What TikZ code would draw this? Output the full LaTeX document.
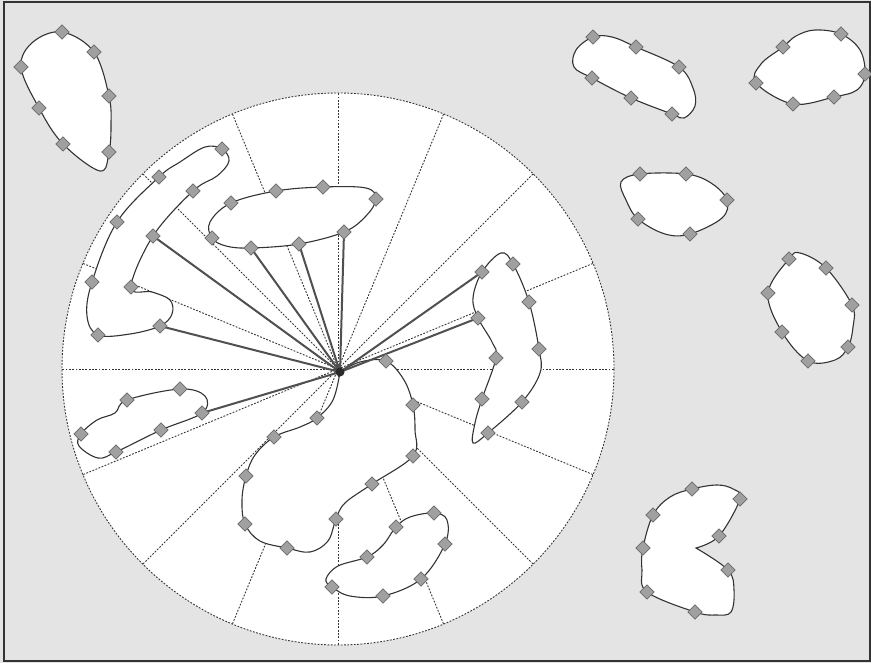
\documentclass[tikz,border=0pt]{standalone}
\definecolor{bg}{HTML}{E4E4E4}
\definecolor{outl}{HTML}{333333}
\definecolor{dashc}{HTML}{353535}
\definecolor{spk}{HTML}{505050}
\definecolor{diaF}{HTML}{A0A0A0}
\definecolor{diaD}{HTML}{6A6A6A}
\definecolor{hubc}{HTML}{2A2A2A}
\begin{document}
\begin{tikzpicture}[x=1pt,y=-1pt,
  blob/.style={draw=outl, fill=white, line width=1.1pt},
  radial/.style={draw=dashc, line width=0.9pt, dash pattern=on 1.8pt off 1.5pt},
  rim/.style={draw=dashc, fill=white, line width=0.9pt, dash pattern=on 1.8pt off 1.5pt},
  spoke/.style={draw=spk, line width=2pt},
  dia/.style={draw=diaD, fill=diaF, rectangle, rotate=45, minimum size=10.2pt, inner sep=0pt, line width=0.7pt},
  hubnode/.style={fill=hubc, circle, minimum size=9pt, inner sep=0pt},
  framebox/.style={draw=outl, line width=1.2pt}]
\useasboundingbox (0,0) rectangle (871,663);
\fill[bg] (0,0) rectangle (871,663);
\draw[framebox] (4,2) rectangle (870,661);

% ---------- positions ----------
\coordinate (O) at (338,369);
\coordinate (hub) at (340,372);
% A
\coordinate (a1) at (62,32);  \coordinate (a2) at (94,52);  \coordinate (a3) at (109,96);
\coordinate (a4) at (109,152);\coordinate (a5) at (63,144); \coordinate (a6) at (39,108);
\coordinate (a7) at (21,67);
% B
\coordinate (b1) at (222,149);\coordinate (b2) at (193,191);\coordinate (b3) at (153,236);
\coordinate (b4) at (131,287);\coordinate (b5) at (160,326);\coordinate (b6) at (98,335);
\coordinate (b7) at (92,282); \coordinate (b8) at (117,222);\coordinate (b9) at (159,177);
% C
\coordinate (c1) at (276,191);\coordinate (c2) at (323,187);\coordinate (c3) at (376,199);
\coordinate (c4) at (231,203);\coordinate (c5) at (212,238);\coordinate (c6) at (251,248);
\coordinate (c7) at (299,244);\coordinate (c8) at (344,232);
% D
\coordinate (d1) at (127,400);\coordinate (d2) at (180,389);\coordinate (d3) at (202,413);
\coordinate (d4) at (81,434); \coordinate (d5) at (161,430);\coordinate (d6) at (116,452);
% E
\coordinate (e1) at (386,361);\coordinate (e2) at (413,405);\coordinate (e3) at (317,418);
\coordinate (e4) at (274,437);\coordinate (e5) at (413,456);\coordinate (e6) at (246,476);
\coordinate (e7) at (372,484);\coordinate (e8) at (245,524);\coordinate (e9) at (336,519);
\coordinate (e10) at (287,548);
% F
\coordinate (f1) at (434,513);\coordinate (f2) at (396,527);\coordinate (f3) at (445,544);
\coordinate (f4) at (367,557);\coordinate (f5) at (421,579);\coordinate (f6) at (332,587);
\coordinate (f7) at (383,596);
% G
\coordinate (g1) at (482,272);\coordinate (g2) at (513,264);\coordinate (g3) at (529,302);
\coordinate (g4) at (478,318);\coordinate (g5) at (539,349);\coordinate (g6) at (496,358);
\coordinate (g7) at (482,399);\coordinate (g8) at (522,402);\coordinate (g9) at (488,433);
% H
\coordinate (h1) at (593,37); \coordinate (h2) at (636,47); \coordinate (h3) at (679,67);
\coordinate (h4) at (592,78); \coordinate (h5) at (631,98); \coordinate (h6) at (672,114);
% I
\coordinate (i1) at (783,47); \coordinate (i2) at (841,34); \coordinate (i3) at (865,74);
\coordinate (i4) at (756,83); \coordinate (i5) at (793,104);\coordinate (i6) at (834,97);
% J
\coordinate (j1) at (640,174);\coordinate (j2) at (686,174);\coordinate (j3) at (727,200);
\coordinate (j4) at (638,219);\coordinate (j5) at (690,234);
% K
\coordinate (k1) at (789,259);\coordinate (k2) at (826,268);\coordinate (k3) at (768,293);
\coordinate (k4) at (852,305);\coordinate (k5) at (782,332);\coordinate (k6) at (848,347);
\coordinate (k7) at (808,361);
% L
\coordinate (l1) at (692,489);\coordinate (l2) at (740,499);\coordinate (l3) at (653,515);
\coordinate (l4) at (719,536);\coordinate (l5) at (643,548);\coordinate (l6) at (728,570);
\coordinate (l7) at (647,592);\coordinate (l8) at (695,612);

% ---------- circle and sectors ----------
\draw[rim] (O) circle[radius=276pt];
\foreach \a in {0,22.5,...,337.5} \draw[radial] (O) -- ++(\a:276pt);

% ---------- outlines ----------
\draw[blob] plot[smooth cycle, tension=0.6] coordinates {(a1) (a2) (a3) (111,125) (a4) (100,171) (a5) (a6) (a7) (33,42)};
\draw[blob] plot[smooth cycle, tension=0.6] coordinates {(b1) (229,161) (217,176) (b2) (b3) (b4) (152,292) (170,300) (172,314) (b5) (130,334) (b6) (87,316) (b7) (b8) (b9) (180,162) (205,147)};
\draw[blob] plot[smooth cycle, tension=0.6] coordinates {(c5) (210,222) (c4) (c1) (c2) (366,188) (c3) (366,216) (c8) (c7) (c6) (226,246)};
\draw[blob] plot[smooth cycle, tension=0.6] coordinates {(d4) (97,420) (115,413) (d1) (d2) (205,396) (d3) (d5) (d6) (98,458) (79,446)};
\draw[blob] plot[smooth, tension=0.6] coordinates {(hub) (360,362) (e1) (404,380) (e2) (415,430) (e5) (e7) (345,503) (e9) (328,541) (310,552) (e10) (260,541) (e8) (242,500) (e6) (255,455) (e4) (300,427) (e3) (333,400) (hub)} -- cycle;
\draw[blob] plot[smooth cycle, tension=0.6] coordinates {(f6) (326,579) (338,566) (f4) (383,545) (f2) (410,517) (f1) (447,520) (f3) (f5) (f7) (350,596)};
\draw[blob] plot[smooth cycle, tension=0.6] coordinates {(g1) (501,253) (g2) (g3) (g5) (540,373) (g8) (g9) (473,443) (475,423) (g7) (g6) (492,342) (g4) (473,298)};
\draw[blob] plot[smooth cycle, tension=0.6] coordinates {(h1) (612,37) (h2) (h3) (693,88) (695,106) (684,118) (h6) (h5) (h4) (574,67) (576,50)};
\draw[blob] plot[smooth cycle, tension=0.6] coordinates {(i4) (761,64) (i1) (796,36) (815,30) (i2) (860,50) (i3) (857,90) (i6) (i5)};
\draw[blob] plot[smooth cycle, tension=0.6] coordinates {(621,182) (j1) (j2) (711,183) (j3) (722,218) (j5) (665,234) (j4) (626,200)};
\draw[blob] plot[smooth cycle, tension=0.6] coordinates {(k1) (800,253) (k2) (k4) (853,327) (k6) (835,360) (k7) (k5) (k3)};
\draw[blob] plot[smooth, tension=0.6] coordinates {(696,548) (l6) (734,590) (731,612) (716,615) (l8) (l7) (642,570) (l5) (l3) (670,497) (l1) (717,485) (733,489) (l2) (l4) (696,548)} -- cycle;

% ---------- spokes ----------
\foreach \t in {b3,b5,c6,c7,c8,d3,g1,g4} \draw[spoke] (hub) -- (\t);

% ---------- diamonds ----------
\foreach \p in {a1,a2,a3,a4,a5,a6,a7,b1,b2,b3,b4,b5,b6,b7,b8,b9,c1,c2,c3,c4,c5,c6,c7,c8,
  d1,d2,d3,d4,d5,d6,e1,e2,e3,e4,e5,e6,e7,e8,e9,e10,f1,f2,f3,f4,f5,f6,f7,
  g1,g2,g3,g4,g5,g6,g7,g8,g9,h1,h2,h3,h4,h5,h6,i1,i2,i3,i4,i5,i6,
  j1,j2,j3,j4,j5,k1,k2,k3,k4,k5,k6,k7,l1,l2,l3,l4,l5,l6,l7,l8}
  \node[dia] (n-\p) at (\p) {};
\node[hubnode] (hubdot) at (hub) {};
\end{tikzpicture}
\end{document}
